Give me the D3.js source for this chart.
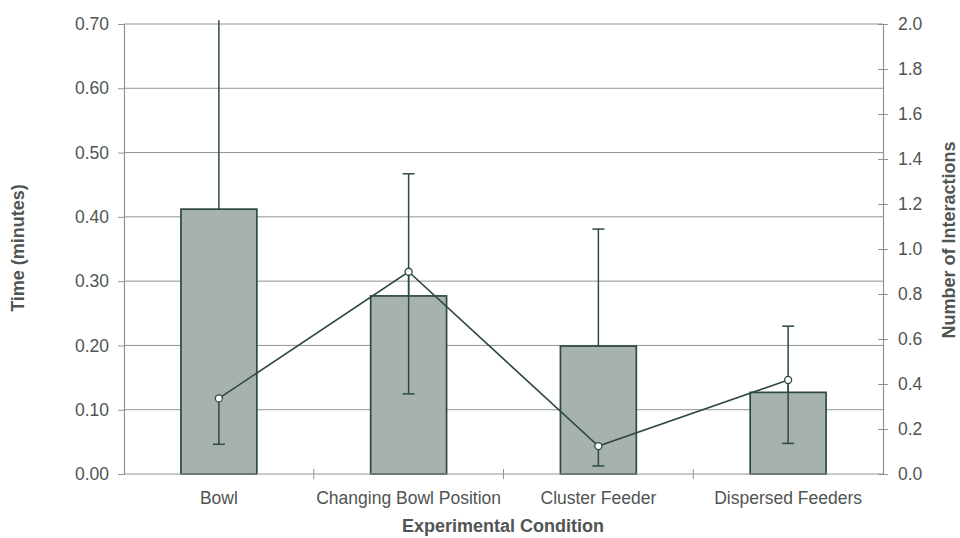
<!DOCTYPE html>
<html>
<head>
<meta charset="utf-8">
<script src="https://cdn.jsdelivr.net/npm/d3@7"></script>
<style>
  html, body { margin: 0; padding: 0; background: #fff; }
  svg { display: block; font-family: "Liberation Sans", Arial, sans-serif; }
</style>
</head>
<body>
<svg id="chart" width="960" height="538"></svg>
<script>
// Conditions along the x axis
const categories = ["Bowl", "Changing Bowl Position", "Cluster Feeder", "Dispersed Feeders"];
// Mean time (minutes), bars on the left axis, with upper error
const timeMeans = [0.412, 0.277, 0.199, 0.127];
const timeErrPlus = [0.294, 0.190, 0.182, 0.103];
// Mean number of interactions, line on the right axis, with lower error
const interactionMeans = [0.336, 0.899, 0.124, 0.418];
const interactionErrMinus = [0.204, 0.543, 0.088, 0.282];
// Tick values
const timeTicks = [0, 0.1, 0.2, 0.3, 0.4, 0.5, 0.6, 0.7];
const interactionTicks = [0, 0.2, 0.4, 0.6, 0.8, 1.0, 1.2, 1.4, 1.6, 1.8, 2.0];

const textColor = "#4f5552";
const inkColor = "#2e4a40";
const gridColor = "#8e9691";
const barFill = "#a8b2ad";
const tickFont = 17.5;
const titleFont = 18;

const svg = d3.select("#chart");
const m = { left: 124, right: 883, top: 24, bottom: 474 };

const x = d3.scaleBand().domain(categories).range([m.left, m.right]).paddingInner(0.6).paddingOuter(0.3);
const xc = d3.scaleBand().domain(categories).range([m.left, m.right]);
const yL = d3.scaleLinear().domain([0, 0.7]).range([m.bottom, m.top]);
const yR = d3.scaleLinear().domain([0, 2.0]).range([m.bottom, m.top]);

// Horizontal gridlines from the time axis
svg.append("g").selectAll("line").data(timeTicks.filter(t => t > 0)).join("line")
  .attr("x1", m.left).attr("x2", m.right)
  .attr("y1", d => yL(d)).attr("y2", d => yL(d))
  .attr("stroke", gridColor).attr("stroke-width", 1);

// Bars
svg.append("g").selectAll("rect").data(categories).join("rect")
  .attr("x", d => x(d)).attr("width", x.bandwidth())
  .attr("y", (d, i) => yL(timeMeans[i]))
  .attr("height", (d, i) => yL(0) - yL(timeMeans[i]))
  .attr("fill", barFill).attr("stroke", inkColor).attr("stroke-width", 1.7);

// Upper error bars on the bars
const cx = d => xc(d) + xc.bandwidth() / 2;
const barErr = svg.append("g");
categories.forEach((c, i) => {
  const top = timeMeans[i] + timeErrPlus[i];
  barErr.append("line")
    .attr("x1", cx(c)).attr("x2", cx(c))
    .attr("y1", yL(timeMeans[i])).attr("y2", yL(top))
    .attr("stroke", inkColor).attr("stroke-width", 1.5);
  if (top <= 0.7) {
    barErr.append("line")
      .attr("x1", cx(c) - 6).attr("x2", cx(c) + 6)
      .attr("y1", yL(top)).attr("y2", yL(top))
      .attr("stroke", inkColor).attr("stroke-width", 1.5);
  }
});

// Lower error bars on the interaction line
const lineErr = svg.append("g");
categories.forEach((c, i) => {
  const bot = interactionMeans[i] - interactionErrMinus[i];
  lineErr.append("line")
    .attr("x1", cx(c)).attr("x2", cx(c))
    .attr("y1", yR(interactionMeans[i])).attr("y2", yR(bot))
    .attr("stroke", inkColor).attr("stroke-width", 1.5);
  lineErr.append("line")
    .attr("x1", cx(c) - 6).attr("x2", cx(c) + 6)
    .attr("y1", yR(bot)).attr("y2", yR(bot))
    .attr("stroke", inkColor).attr("stroke-width", 1.5);
});

// Interaction line with hollow markers
const line = d3.line().x(d => cx(d.c)).y(d => yR(d.v));
const pts = categories.map((c, i) => ({ c, v: interactionMeans[i] }));
svg.append("path").datum(pts).attr("d", line)
  .attr("fill", "none").attr("stroke", inkColor).attr("stroke-width", 1.6);
svg.append("g").selectAll("circle").data(pts).join("circle")
  .attr("cx", d => cx(d.c)).attr("cy", d => yR(d.v)).attr("r", 3.5)
  .attr("fill", "#fff").attr("stroke", inkColor).attr("stroke-width", 1.3);

// Left axis
const axL = svg.append("g").attr("transform", `translate(${m.left},0)`)
  .call(d3.axisLeft(yL).tickValues(timeTicks).tickFormat(d3.format(".2f")).tickSize(6).tickPadding(9));
// Right axis with crossing ticks
const axR = svg.append("g").attr("transform", `translate(${m.right},0)`)
  .call(d3.axisRight(yR).tickValues(interactionTicks).tickFormat(d3.format(".1f")).tickSize(5).tickPadding(10));
axR.selectAll(".tick line").attr("x1", -5);
// Bottom axis with crossing ticks at category boundaries
const axB = svg.append("g").attr("transform", `translate(0,${m.bottom})`)
  .call(d3.axisBottom(xc).tickSize(0).tickPadding(18));
axB.append("g").selectAll("line").data(categories.slice(1)).join("line")
  .attr("x1", d => xc(d)).attr("x2", d => xc(d)).attr("y1", -5).attr("y2", 5)
  .attr("stroke", gridColor);

[axL, axR, axB].forEach(a => {
  a.select(".domain").attr("stroke", gridColor).attr("stroke-width", 1.2);
  a.selectAll(".tick line").attr("stroke", gridColor);
  a.selectAll("text").attr("fill", textColor).attr("font-size", tickFont)
    .attr("font-family", '"Liberation Sans", Arial, sans-serif');
});
axB.select(".domain").attr("d", `M${m.left},0H${m.right}`);

// Axis titles
svg.append("text").attr("x", 503).attr("y", 532).attr("text-anchor", "middle")
  .attr("font-weight", "bold").attr("font-size", titleFont).attr("fill", textColor)
  .text("Experimental Condition");
svg.append("text").attr("transform", "translate(24,248) rotate(-90)").attr("text-anchor", "middle")
  .attr("font-weight", "bold").attr("font-size", titleFont).attr("fill", textColor)
  .text("Time (minutes)");
svg.append("text").attr("transform", "translate(955,240) rotate(-90)").attr("text-anchor", "middle")
  .attr("font-weight", "bold").attr("font-size", titleFont).attr("fill", textColor)
  .text("Number of Interactions");
</script>
</body>
</html>
